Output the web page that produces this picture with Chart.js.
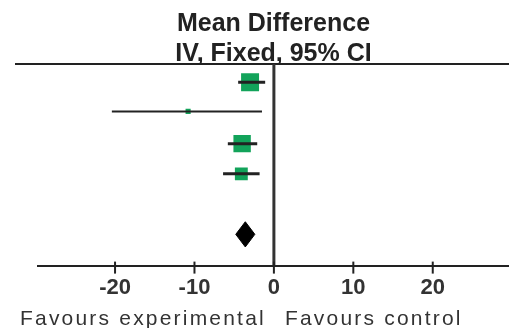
<!DOCTYPE html>
<html>
<head>
<meta charset="utf-8">
<script src="https://cdn.jsdelivr.net/npm/chart.js@4.4.1/dist/chart.umd.min.js"></script>
<style>
  body { margin: 0; background: #fff; }
  #wrap { width: 509px; height: 328px; }
</style>
</head>
<body>
<div id="wrap"><canvas id="forest" width="509" height="328"></canvas></div>
<script>
// study rows (top to bottom), row position on a 0-20 scale
let rowPos = [1.8, 4.7, 7.9, 10.9];
let meanDiff = [-3.0, -10.8, -4.0, -4.1];
let ciLow = [-4.5, -20.4, -5.8, -6.4];
let ciHigh = [-1.1, -1.5, -2.1, -1.8];
let weights = [39.5, 3.2, 37.0, 20.3];

// pooled estimate (diamond)
let pooledPos = 16.9;
let pooled = [-4.8, -3.6, -2.4]; // low, estimate, high

let xTicks = [-20, -10, 0, 10, 20];
let titleLines = ['Mean Difference', 'IV, Fixed, 95% CI'];
let favourLabels = ['Favours experimental', 'Favours control'];

let green = '#12a35a';
let ink = '#222';

let datasets = [];
// CI whiskers
for (let i = 0; i < rowPos.length; i++) {
    datasets.push({
        data: [{x: ciLow[i], y: rowPos[i]}, {x: ciHigh[i], y: rowPos[i]}],
        showLine: true,
        borderColor: ink,
        borderWidth: i === 1 ? 2 : 3,
        pointRadius: 0
    });
}
// weighted squares
datasets.push({
    data: meanDiff.map((v, i) => ({x: v, y: rowPos[i]})),
    pointStyle: 'rect',
    pointRadius: weights.map(w => 2.86 * Math.sqrt(w) / Math.SQRT2),
    pointBackgroundColor: green,
    pointBorderWidth: 0,
    showLine: false
});
// diamond
let dh = 1.25;
datasets.push({
    data: [
        {x: pooled[0], y: pooledPos},
        {x: pooled[1], y: pooledPos - dh},
        {x: pooled[2], y: pooledPos},
        {x: pooled[1], y: pooledPos + dh},
        {x: pooled[0], y: pooledPos}
    ],
    showLine: true,
    fill: 'shape',
    backgroundColor: '#000',
    borderColor: '#000',
    borderWidth: 1,
    pointRadius: 0
});

let forestLines = {
    id: 'forestLines',
    afterDraw(chart) {
        let ctx = chart.ctx;
        let area = chart.chartArea;
        let xs = chart.scales.x;
        let zero = xs.getPixelForValue(0);
        ctx.save();
        // top rule
        ctx.strokeStyle = ink;
        ctx.lineWidth = 2;
        ctx.beginPath();
        ctx.moveTo(15, area.top);
        ctx.lineTo(area.right, area.top);
        ctx.stroke();
        // line of no effect
        ctx.strokeStyle = '#333';
        ctx.lineWidth = 3;
        ctx.beginPath();
        ctx.moveTo(zero, area.top);
        ctx.lineTo(zero, area.bottom);
        ctx.stroke();
        // ticks crossing the axis
        ctx.strokeStyle = ink;
        ctx.lineWidth = 2;
        xs.ticks.forEach(t => {
            let px = xs.getPixelForValue(t.value);
            ctx.beginPath();
            ctx.moveTo(px, area.bottom - 4);
            ctx.lineTo(px, area.bottom + 8);
            ctx.stroke();
        });
        // favours labels
        ctx.fillStyle = '#333';
        ctx.font = '21px "Liberation Sans", Arial, sans-serif';
        ctx.letterSpacing = '2.2px';
        ctx.textBaseline = 'alphabetic';
        ctx.textAlign = 'right';
        ctx.fillText(favourLabels[0], zero - 8, 325);
        ctx.textAlign = 'left';
        ctx.fillText(favourLabels[1], zero + 11, 325);
        ctx.restore();
    }
};

let chart = new Chart(document.getElementById('forest').getContext('2d'), {
    type: 'scatter',
    data: {datasets: datasets},
    options: {
        responsive: false,
        animation: false,
        layout: {autoPadding: false, padding: {left: 38, right: 0, top: 0, bottom: 26}},
        plugins: {
            legend: {display: false},
            tooltip: {enabled: false},
            title: {
                display: true,
                text: titleLines,
                fullSize: false,
                color: ink,
                font: {family: '"Liberation Sans", Arial, sans-serif', size: 25, weight: 'bold', lineHeight: 1.2},
                padding: {top: 9, bottom: -5}
            }
        },
        scales: {
            x: {
                type: 'linear',
                min: -29.7,
                max: 29.6,
                afterBuildTicks: s => { s.ticks = xTicks.map(v => ({value: v})); },
                afterFit: s => { s.paddingLeft = 0; s.paddingRight = 0; },
                grid: {display: false},
                border: {display: true, color: ink, width: 2},
                ticks: {
                    color: '#333',
                    padding: 1,
                    font: {family: '"Liberation Sans", Arial, sans-serif', size: 22, weight: 'bold'}
                }
            },
            y: {
                type: 'linear',
                display: false,
                reverse: true,
                min: 0,
                max: 20
            }
        }
    },
    plugins: [forestLines]
});
</script>
</body>
</html>
